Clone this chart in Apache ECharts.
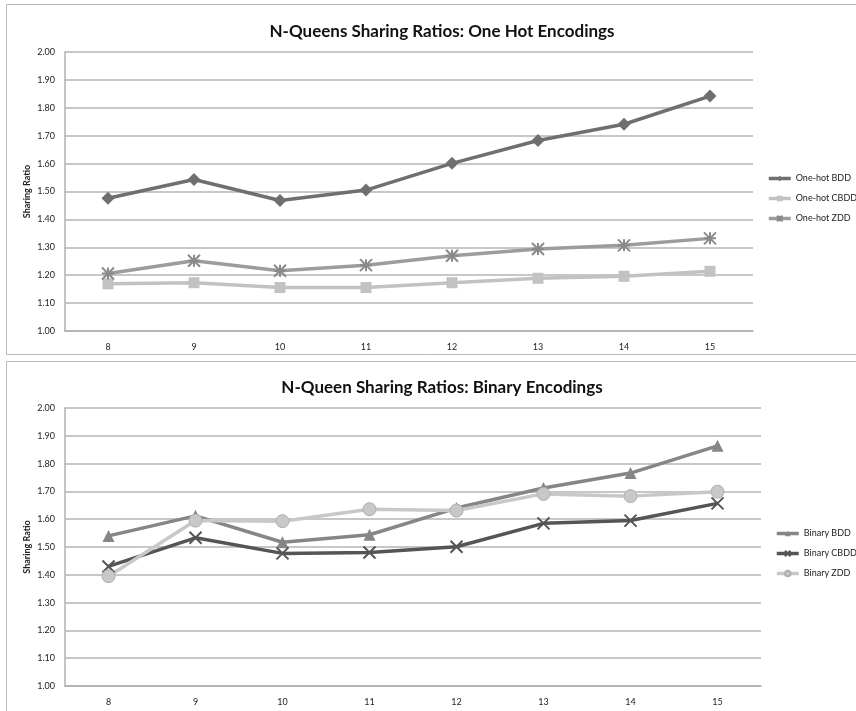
<!DOCTYPE html>
<html>
<head>
<meta charset="utf-8">
<script src="https://cdn.jsdelivr.net/npm/echarts@6/dist/echarts.min.js"></script>
<style>
  html, body { margin: 0; padding: 0; background: #fff; }
  #chart { width: 856px; height: 711px; }
</style>
</head>
<body>
<div id="chart"></div>
<script>
document.addEventListener("DOMContentLoaded", function() {

    const nValues = ['8', '9', '10', '11', '12', '13', '14', '15'];

    // top panel: one hot encodings
    const oneHotBDD  = [1.476, 1.543, 1.468, 1.505, 1.601, 1.683, 1.741, 1.842];
    const oneHotCBDD = [1.169, 1.173, 1.156, 1.156, 1.173, 1.189, 1.196, 1.214];
    const oneHotZDD  = [1.206, 1.252, 1.216, 1.236, 1.270, 1.294, 1.307, 1.332];

    // bottom panel: binary encodings
    const binaryBDD  = [1.540, 1.612, 1.517, 1.544, 1.640, 1.712, 1.766, 1.864];
    const binaryCBDD = [1.430, 1.533, 1.477, 1.480, 1.501, 1.585, 1.595, 1.657];
    const binaryZDD  = [1.395, 1.595, 1.593, 1.636, 1.631, 1.691, 1.683, 1.699];

    const font = "Lato, 'Open Sans', sans-serif";

    const xAxisFor = (gridIndex) => ({
        type: 'category',
        gridIndex: gridIndex,
        data: nValues,
        boundaryGap: true,
        axisLine: {lineStyle: {color: '#b0b0b0', width: 1.5}},
        axisTick: {show: false},
        axisLabel: {color: '#222', fontSize: 9, fontFamily: font, margin: 12}
    });

    const yAxisFor = (gridIndex) => ({
        type: 'value',
        gridIndex: gridIndex,
        min: 1,
        max: 2,
        interval: 0.1,
        name: 'Sharing Ratio',
        nameLocation: 'middle',
        nameGap: 33,
        nameMoveOverlap: false,
        nameTextStyle: {fontSize: 9, fontWeight: 'bold', color: '#222', fontFamily: font},
        axisLine: {show: true, lineStyle: {color: '#b0b0b0', width: 1.5}},
        axisTick: {show: false},
        axisLabel: {color: '#222', fontSize: 9, fontFamily: font, margin: 10,
            formatter: (v) => v.toFixed(2)},
        splitLine: {lineStyle: {color: '#b4b4b4', width: 1.5}}
    });

    const lineSeries = (name, data, idx, color, symbol, size, border) => ({
        name: name,
        type: 'line',
        xAxisIndex: idx,
        yAxisIndex: idx,
        data: data,
        symbol: symbol,
        symbolSize: size,
        lineStyle: {color: color, width: 3.5},
        itemStyle: border
            ? {color: color, borderColor: border[0], borderWidth: border[1]}
            : {color: color},
        z: 3
    });

    const legendFor = (names, left, top) => ({
        data: names,
        orient: 'vertical',
        left: left,
        top: top,
        padding: 0,
        itemGap: 11,
        itemWidth: 22,
        itemHeight: 7,
        lineStyle: {width: 3.5},
        textStyle: {fontSize: 9, color: '#222', fontFamily: font}
    });

    const chart = echarts.init(document.getElementById('chart'));

    chart.setOption({
        animation: false,
        backgroundColor: '#fff',
        graphic: [
            {type: 'rect', shape: {x: 6.5, y: 4.5, width: 860, height: 350},
             style: {fill: 'none', stroke: '#b8b8b8', lineWidth: 1}},
            {type: 'rect', shape: {x: 6.5, y: 361.5, width: 860, height: 360},
             style: {fill: 'none', stroke: '#b8b8b8', lineWidth: 1}}
        ],
        title: [
            {text: 'N-Queens Sharing Ratios: One Hot Encodings', left: 437, top: 18, textAlign: 'center',
             textStyle: {fontSize: 17, fontWeight: 'bold', color: '#111', fontFamily: font}},
            {text: 'N-Queen Sharing Ratios: Binary Encodings', left: 437, top: 374, textAlign: 'center',
             textStyle: {fontSize: 17, fontWeight: 'bold', color: '#111', fontFamily: font}}
        ],
        legend: [
            legendFor(['One-hot BDD', 'One-hot CBDD', 'One-hot ZDD'], 767, 174),
            legendFor(['Binary BDD', 'Binary CBDD', 'Binary ZDD'], 775, 529)
        ],
        grid: [
            {left: 65, top: 52, width: 688, height: 279},
            {left: 65, top: 408, width: 696, height: 278}
        ],
        xAxis: [xAxisFor(0), xAxisFor(1)],
        yAxis: [yAxisFor(0), yAxisFor(1)],
        series: [
            lineSeries('One-hot BDD', oneHotBDD, 0, '#6f6f6f', 'diamond', 13),
            lineSeries('One-hot CBDD', oneHotCBDD, 0, '#c2c2c2', 'rect', 11),
            lineSeries('One-hot ZDD', oneHotZDD, 0, '#9c9c9c',
                'path://M0,0 L10,10 M10,0 L0,10 M5,0 L5,10 M0,5 L10,5', 12, ['#8a8a8a', 2]),
            lineSeries('Binary BDD', binaryBDD, 1, '#868686', 'triangle', 12),
            lineSeries('Binary CBDD', binaryCBDD, 1, '#555555',
                'path://M0,0 L10,10 M10,0 L0,10', 12, ['#555555', 2]),
            lineSeries('Binary ZDD', binaryZDD, 1, '#c8c8c8', 'circle', 13, ['#b0b0b0', 1])
        ]
    });

});
</script>
</body>
</html>
